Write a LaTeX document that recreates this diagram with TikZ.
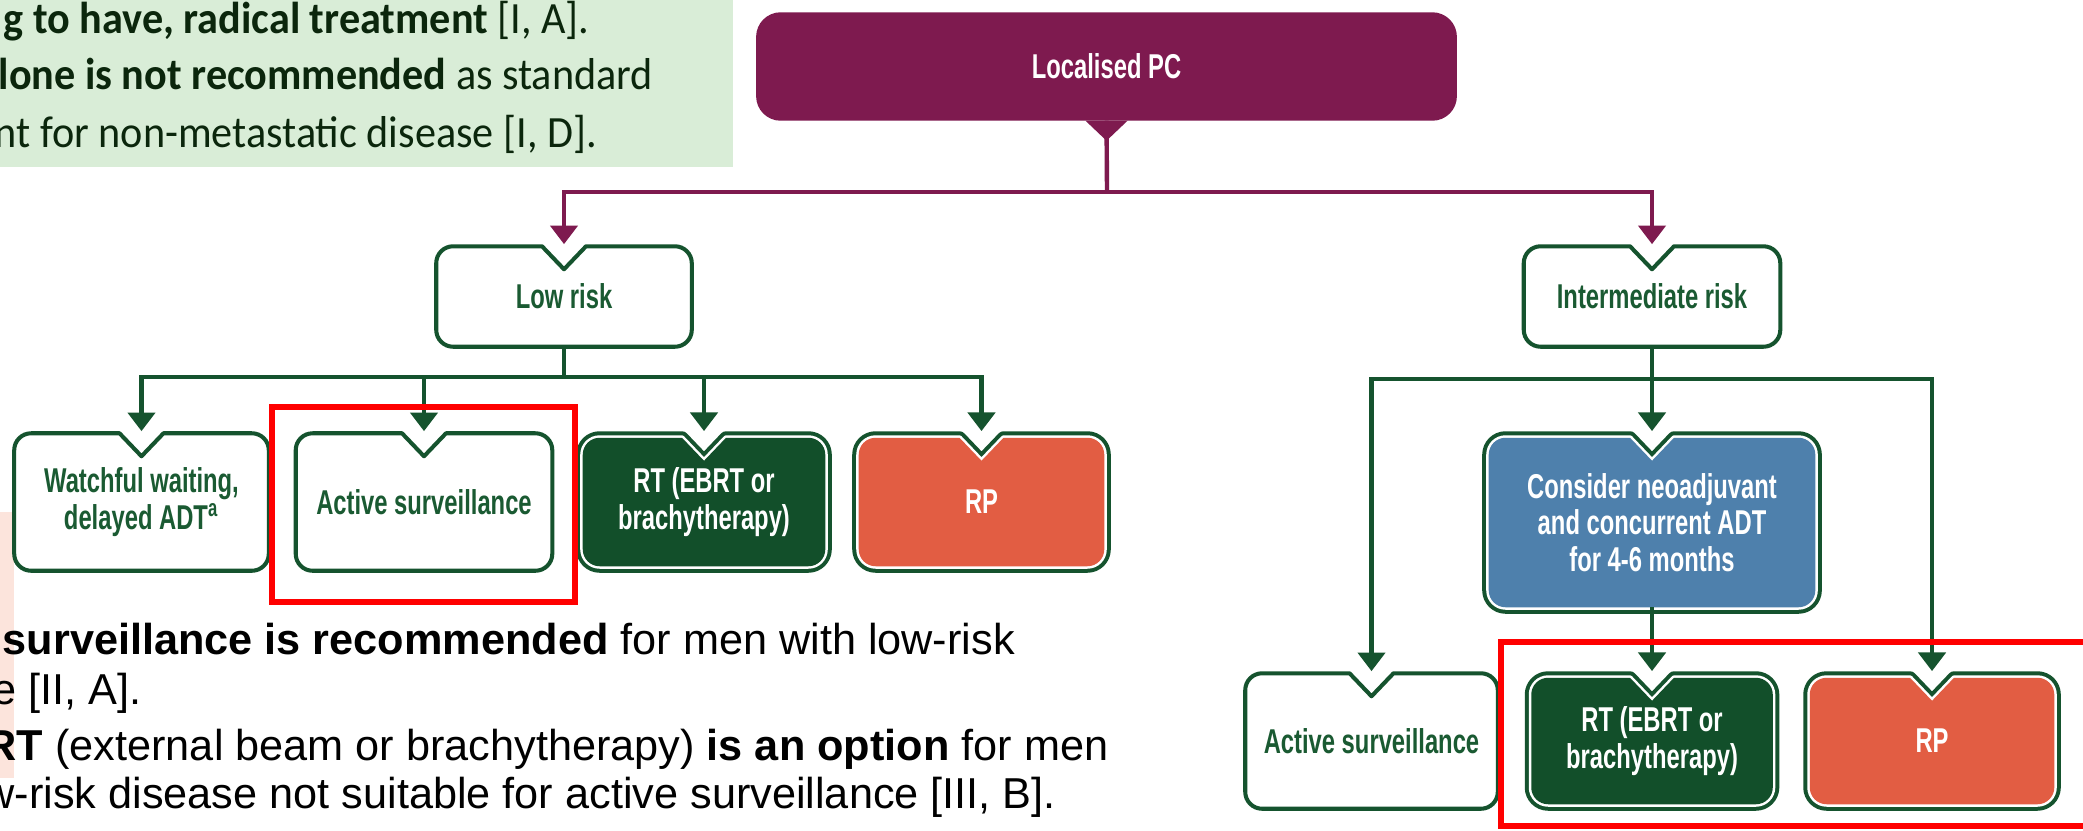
\documentclass[tikz,border=0pt]{standalone}
\usepackage{fontspec}
\setmainfont{Liberation Sans}
\newfontfamily\condf[FakeStretch=0.69]{Liberation Sans}
\newfontfamily\calf[FakeStretch=0.945]{Carlito}
\usetikzlibrary{arrows.meta,calc}
\pgfdeclarelayer{bg}
\pgfsetlayers{bg,main}
\definecolor{maroon}{HTML}{7E1A4F}
\definecolor{dkg}{HTML}{15532E}
\definecolor{txg}{HTML}{1A5A32}
\definecolor{rtg}{HTML}{124F2A}
\definecolor{rpo}{HTML}{E25D43}
\definecolor{blu}{HTML}{4E80AC}
\definecolor{lgr}{HTML}{D9EDD7}
\definecolor{pnk}{HTML}{FCE4DC}
\definecolor{gtx}{HTML}{0B260C}
\newcommand{\notchpath}[2]{%
 \path[#2] ($(#1.north)+(-22,0)$) [rounded corners=4.8pt] -- (#1.north west) -- (#1.south west) -- (#1.south east) -- (#1.north east) [sharp corners] -- ($(#1.north)+(22,0)$) -- ($(#1.north)+(0,23)$) -- cycle;}
\newcommand{\whitebox}[1]{\notchpath{#1}{fill=white, draw=dkg, line width=1.15pt, line join=round}}
\newcommand{\colbox}[2]{%
 \notchpath{#1}{draw=dkg, line width=3.7pt, line join=round}%
 \notchpath{#1}{draw=white, line width=1.42pt, line join=round}%
 \notchpath{#1}{fill=#2}}
\tikzset{
 box/.style={rectangle, inner sep=0pt, align=center, font=\condf\bfseries\fontsize{9.8}{10.4}\selectfont},
 wbox/.style={box, text=txg},
 cbox/.style={box, text=white},
 gline/.style={draw=dkg, line width=1.25pt},
 garr/.style={gline, -{Triangle[width=7.7pt,length=5.3pt]}},
 mline/.style={draw=maroon, line width=1.25pt},
 marr/.style={mline, -{Triangle[width=7.7pt,length=5.3pt]}},
 redframe/.style={draw=red, line width=1.7pt},
 gtext/.style={inner sep=0pt, text=gtx, font=\calf\fontsize{12.7}{15}\selectfont},
 btext/.style={inner sep=0pt, text=black, font=\fontsize{12.3}{14}\selectfont},
}
\begin{document}
\begin{tikzpicture}[x=0.01cm,y=-0.01cm]
\useasboundingbox (0,0) rectangle (2083,830);
% nodes
\node[box, text=white, minimum width=6.99cm, minimum height=1.07cm] (lpc) at (1106.5,66.5) {Localised PC};
\node[wbox, minimum width=2.54cm, minimum height=0.99cm] (low) at (564,296.5) {Low risk};
\node[wbox, minimum width=2.55cm, minimum height=0.99cm] (inter) at (1652,296.5) {Intermediate risk};
\node[wbox, minimum width=2.53cm, minimum height=1.36cm] (watch) at (141.5,502) {Watchful waiting,\\delayed ADT\textsuperscript{a}};
\node[wbox, minimum width=2.55cm, minimum height=1.36cm] (as1) at (424,502) {Active surveillance};
\node[cbox, minimum width=2.41cm, minimum height=1.27cm] (rt1) at (704,502) {RT (EBRT or\\brachytherapy)};
\node[cbox, minimum width=2.44cm, minimum height=1.27cm] (rp1) at (981.5,502) {RP};
\node[cbox, minimum width=3.25cm, minimum height=1.68cm] (neo) at (1652,522.5) {Consider neoadjuvant\\and concurrent ADT\\for 4-6 months};
\node[wbox, minimum width=2.51cm, minimum height=1.34cm] (as2) at (1371.5,741) {Active surveillance};
\node[cbox, minimum width=2.40cm, minimum height=1.25cm] (rt2) at (1652,741) {RT (EBRT or\\brachytherapy)};
\node[cbox, minimum width=2.43cm, minimum height=1.25cm] (rp2) at (1932,741) {RP};
% side texts
\node[gtext, anchor=base west] (g1) at (3,33) {\textbf{g to have, radical treatment} [I, A].};
\node[gtext, anchor=base west] (g2) at (-2,89) {\textbf{lone is not recommended} as standard};
\node[gtext, anchor=base west] (g3) at (-6,147) {nt for non-metastatic disease [I, D].};
\node[btext, anchor=base west] (b1) at (2,654) {\textbf{surveillance is recommended} for men with low-risk};
\node[btext, anchor=base west] (b2) at (-8,704) {e [II, A].};
\node[btext, anchor=base west] (b3) at (-15,760) {\textbf{RT} (external beam or brachytherapy) \textbf{is an option} for men};
\node[btext, anchor=base west] (b4) at (-17,808) {w-risk disease not suitable for active surveillance [III, B].};
% shapes
\begin{pgfonlayer}{bg}
\fill[white] (0,0) rectangle (2083,830);
\fill[lgr] (0,0) rectangle (733,167);
\fill[pnk] (0,512) rectangle (14,778);
\fill[maroon, rounded corners=7pt] (lpc.north west) rectangle (lpc.south east);
\fill[maroon] ($(lpc.south)+(-21,0)$) -- ($(lpc.south)+(21,0)$) -- ($(lpc.south)+(0,20)$) -- cycle;
\whitebox{low}
\whitebox{inter}
\whitebox{watch}
\whitebox{as1}
\whitebox{as2}
\colbox{rt1}{rtg}
\colbox{rp1}{rpo}
\colbox{neo}{blu}
\colbox{rt2}{rtg}
\colbox{rp2}{rpo}
\end{pgfonlayer}
% connectors
\coordinate (lpcj) at (1107,192);
\coordinate (lowj) at (564,377);
\coordinate (interj) at (1652,379);
\draw[mline] (lpc.south) -- (lpcj);
\draw[marr, shorten >=0.6pt] (lpcj) -| (low.north);
\draw[marr, shorten >=0.6pt] (lpcj) -| (inter.north);
\draw[gline] (low.south) -- (lowj);
\draw[garr, shorten >=0.6pt] (lowj) -| (watch.north);
\draw[garr, shorten >=0.6pt] (lowj) -| (as1.north);
\draw[garr, shorten >=1.9pt] (lowj) -| (rt1.north);
\draw[garr, shorten >=1.9pt] (lowj) -| (rp1.north);
\draw[gline] (inter.south) -- (interj);
\draw[garr, shorten >=1.9pt] (interj) -- (neo.north);
\draw[garr, shorten >=0.6pt] (interj) -| (as2.north);
\draw[garr, shorten >=1.9pt] (interj) -| (rp2.north);
\draw[garr, shorten >=1.9pt] (neo.south) -- (rt2.north);
% red frames
\draw[redframe] (272,407) rectangle (575,602);
\draw[redframe] (1501,642) rectangle (2100,826);
\end{tikzpicture}
\end{document}
